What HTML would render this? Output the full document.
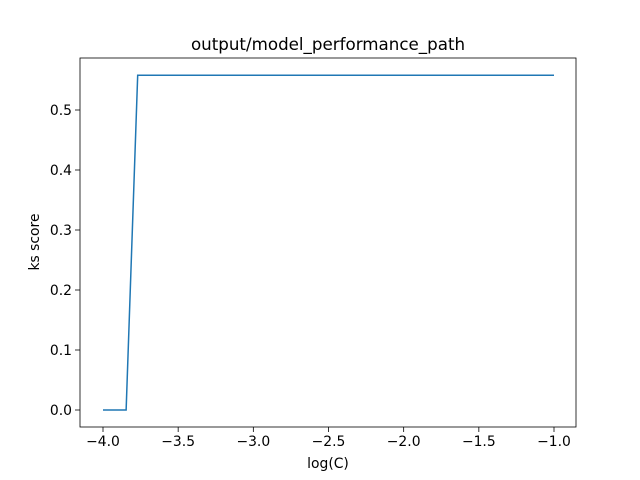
<!DOCTYPE html>
<html><head><meta charset="utf-8"><style>
body{margin:0;background:#fff;}
svg{display:block;font-family:"DejaVu Sans","Liberation Sans",sans-serif;}
</style></head><body>
<svg id="chart" width="640" height="480">
<rect x="0" y="0" width="640" height="480" fill="#fff"/>
<text x="328" y="50" font-size="16.7" text-anchor="middle">output/model_performance_path</text>
<g id="ticks"></g>
<path id="line" fill="none" stroke="#1f77b4" stroke-width="1.5"/>
<rect x="80" y="58" width="496" height="369" fill="none" stroke="#000" stroke-width="0.8"/>
<text x="328" y="468" font-size="13.9" text-anchor="middle">log(C)</text>
<text x="0" y="0" font-size="13.9" text-anchor="middle" transform="translate(39,242) rotate(-90)">ks score</text>
</svg>
<script>
const xTicks = [-4.0, -3.5, -3.0, -2.5, -2.0, -1.5, -1.0];
const xTickLabels = ["\u22124.0","\u22123.5","\u22123.0","\u22122.5","\u22122.0","\u22121.5","\u22121.0"];
const yTicks = [0.0, 0.1, 0.2, 0.3, 0.4, 0.5];
const yTickLabels = ["0.0","0.1","0.2","0.3","0.4","0.5"];
const logC = [];
for (let i = 0; i < 40; i++) logC.push(-4 + 3 * i / 39);
const ksScores = [0,0,0,0.558,0.558,0.558,0.558,0.558,0.558,0.558,
0.558,0.558,0.558,0.558,0.558,0.558,0.558,0.558,0.558,0.558,
0.558,0.558,0.558,0.558,0.558,0.558,0.558,0.558,0.558,0.558,
0.558,0.558,0.558,0.558,0.558,0.558,0.558,0.558,0.558,0.558];

function xs(v){ return 103 + (v + 4) * (451 / 3); }
function ys(v){ return 410 - v * 600; }

const NS = "http://www.w3.org/2000/svg";
const g = document.getElementById("ticks");
xTicks.forEach((t, i) => {
  const l = document.createElementNS(NS, "line");
  l.setAttribute("x1", xs(t)); l.setAttribute("x2", xs(t));
  l.setAttribute("y1", 427); l.setAttribute("y2", 432);
  l.setAttribute("stroke", "#000"); l.setAttribute("stroke-width", "0.8");
  
  
  g.appendChild(l);
  const tx = document.createElementNS(NS, "text");
  tx.setAttribute("x", xs(t)); tx.setAttribute("y", 446);
  tx.setAttribute("font-size", "13.9"); tx.setAttribute("text-anchor", "middle");
  tx.textContent = xTickLabels[i];
  
  
  g.appendChild(tx);
});
yTicks.forEach((t, i) => {
  const l = document.createElementNS(NS, "line");
  l.setAttribute("x1", 75); l.setAttribute("x2", 80);
  l.setAttribute("y1", ys(t)); l.setAttribute("y2", ys(t));
  l.setAttribute("stroke", "#000"); l.setAttribute("stroke-width", "0.8");
  
  
  g.appendChild(l);
  const tx = document.createElementNS(NS, "text");
  tx.setAttribute("x", 72); tx.setAttribute("y", ys(t) + 5);
  tx.setAttribute("font-size", "13.9"); tx.setAttribute("text-anchor", "end");
  tx.textContent = yTickLabels[i];
  
  
  g.appendChild(tx);
});
document.getElementById("line").setAttribute("d",
  logC.map((x, i) => (i ? "L" : "M") + xs(x).toFixed(2) + "," + ys(ksScores[i]).toFixed(2)).join(" "));
</script>
</body></html>
